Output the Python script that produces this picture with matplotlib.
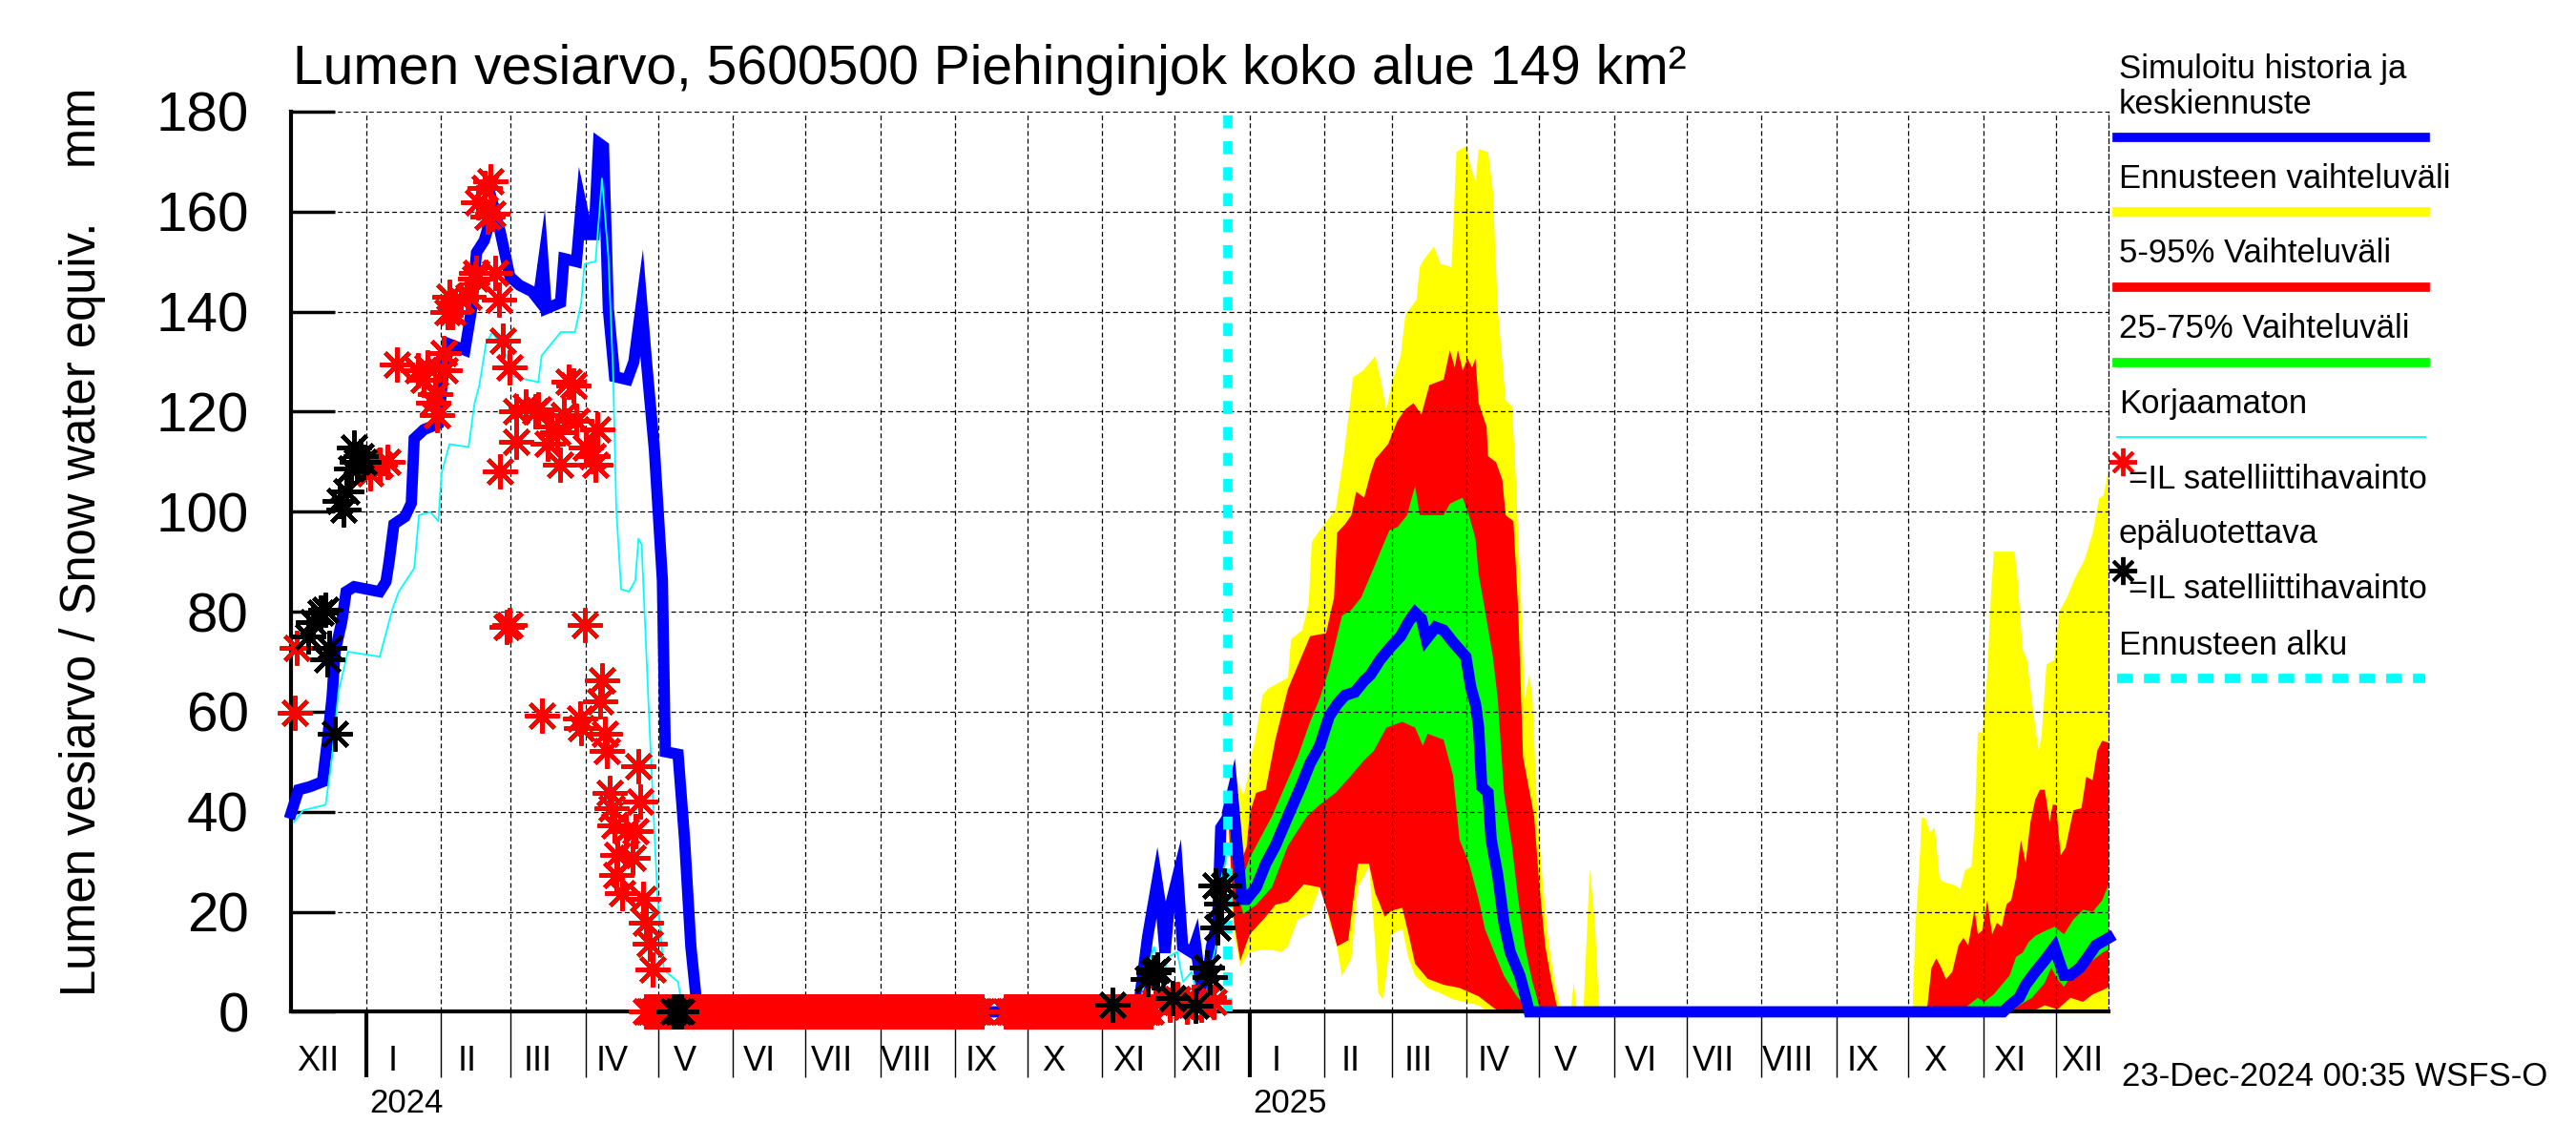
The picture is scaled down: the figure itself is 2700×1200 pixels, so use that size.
import numpy as np
import matplotlib
matplotlib.use('Agg')
import matplotlib.pyplot as plt
from matplotlib.lines import Line2D
import matplotlib.transforms as mtrans
import datetime as dt

plt.rcParams['font.family'] = ['Liberation Sans', 'DejaVu Sans']

# ---------------- data (x = days since 1 Jan 2024) ----------------
TITLE = "Lumen vesiarvo, 5600500 Piehinginjok koko alue 149 km\u00b2"
YLABEL = "Lumen vesiarvo / Snow water equiv.    mm"
STAMP = "23-Dec-2024 00:35 WSFS-O"
FORECAST_START = 357
X_START = -31
X_END = 722
ROMAN = ["I", "II", "III", "IV", "V", "VI", "VII", "VIII", "IX", "X", "XI", "XII"]

# simulated history (blue)
hist_day = [-31, -27.9, -23.3, -18, -16, -14, -12.8, -10, -8.2, -4.9, 5.7, 8.3, 9.6, 11.6,
            16.2, 18.8, 20, 24, 30, 32, 34.6, 41, 43.8, 45.8, 49, 53, 55.6, 59.6, 63.5,
            68.8, 71.4, 73.4, 74.7, 80.6, 82, 87.2, 89.2, 91.8, 94.5, 96.4, 98.4, 100.4,
            103, 108.3, 111, 114.2, 116.2, 119.5, 122.8, 124, 129.3, 132, 134.6, 137.2,
            138.5, 319.8, 323.8, 327.7, 329.7, 331, 332.4, 336.3, 338.3, 342.3, 343.6,
            346.2, 348.2, 350.2, 352.8, 354.1, 356.8, 357]
hist_swe = [39.7, 44.4, 45, 46, 54, 63, 72, 78, 84, 85, 84, 86, 90, 97.5,
            99, 101.7, 114.6, 116.4, 117.6, 127.6, 133.5, 132.3, 140.6, 151.8, 154.2, 160.7,
            156, 147, 145.3, 144, 142.4, 149.5, 140.6, 141.8, 150.6, 150, 161.3, 155.4,
            155.4, 173.7, 173, 140.6, 127, 126.4, 130, 141.8, 130, 112.3, 86.3, 52, 51.5,
            34.4, 13, 0.7, 0, 0, 15, 25.9, 19.5, 11.8, 19.5, 27.2, 13, 11.8, 13.7, 4, 4.7,
            13, 18.2, 36.8, 38.8, 40]

# uncorrected simulation (cyan)
uncorr_day = [-29.9, -26, -16.7, -14, -11.4, -7.5, -0.9, 5.7, 10.9, 13.6, 20, 22, 26.7,
              30, 31.3, 34.6, 42.5, 45, 47, 49.7, 52.4, 58.3, 61, 71.4, 72.8, 80.7, 86.6,
              89.2, 90.5, 95.1, 97.8, 100.4, 102.4, 103.7, 105.7, 109, 111.6, 112.9, 114.2,
              117.5, 120.8, 123.4, 129.3, 131.3, 320, 323.8, 326.5, 328, 330, 332.5, 336,
              338.5, 342, 345, 348, 350, 352.5, 354.5, 356.5]
uncorr_swe = [37.9, 40.3, 41.4, 50.9, 63.9, 72, 71.5, 71, 80.4, 84, 88.7, 99.3, 99.9,
              98.1, 107.6, 113.5, 112.9, 121.7, 125.3, 133.5, 135.9, 131.2, 127, 125.9,
              131.2, 135.9, 135.9, 141.8, 149.5, 150, 166.6, 151.2, 127.6, 100.5, 84.5,
              84, 86.3, 94.6, 93.4, 56.8, 22.5, 8.4, 6, 0, 0, 9, 13, 10, 7, 11, 12, 6, 8,
              2, 3, 9, 14, 27, 31]

# satellite observations, unreliable (red asterisks)
obs_bad_day = [-29.6, -28.6, 1.7, 5.7, 8.9, 12.9, 21.4, 25.4, 24, 28, 29.3, 32, 32.6, 28.7,
               34.6, 35.9, 33.9, 39.2, 42.5, 45.1, 45.8, 53.7, 55, 49, 51.7, 46.4, 50.4,
               52.4, 56.8, 59.6, 62.2, 66.2, 70.1, 71.4, 62.2, 55.7, 76.7, 75.4, 79.3, 81.8,
               80.5, 83.9, 85.9, 87.2, 95.8, 91.2, 93.8, 95.1, 59.6, 58.3, 90.5, 72.8, 88.6,
               89.2, 97.8, 97.1, 99.1, 99.7, 112.9, 113.6, 101, 101.6, 102.9, 107.6, 111.6,
               104.2, 110.3, 103.6, 106.2, 114.7, 116, 117.5, 118.7,
               327, 330, 333, 336, 340, 343, 346, 349, 351]
obs_bad_swe = [59.7, 72.7, 107.6, 109.3, 110, 129.4, 128.2, 128.8, 126.4, 121.7, 119.4, 131.8,
               128.2, 123.5, 143, 140, 140, 142.4, 143, 146.5, 147.7, 147.7, 142.4, 164.8,
               166, 161.9, 159, 159.5, 134.1, 128.8, 120, 121.1, 120, 120.5, 114, 108.1, 117,
               113.5, 115.8, 119.4, 109.3, 125.9, 125.3, 118.2, 116.4, 112.9, 111.1, 109.3,
               77.4, 76.9, 77.4, 59.2, 58.6, 56.8, 66.2, 62.1, 55.6, 52.1, 49.1, 42, 43.8,
               40.8, 37.3, 36.1, 36.1, 31.4, 30.8, 27.3, 23.7, 22.5, 17.8, 13.7, 8.4,
               2, 3, 1.5, 2.5, 1, 2, 1.5, 3, 2]
obs_bad_zero_spans = [(116, 255), (265, 325)]   # daily zero readings

# satellite observations (black asterisks)
obs_day = [-18.7, -16.7, -22, -23.9, -15.4, -16, -12.8, -9.5, -10.8, -8.2, -6.2, -4.9,
           -2.2, -3.6, -0.9, 127.5, 129.3, 130.5, 309.3, 323.8, 326.4, 327.7, 334.3, 343.6,
           348.2, 349.5, 352.1, 352.8, 354.1, 355.4]
obs_swe = [79.8, 80.4, 78, 75, 72.7, 70.4, 55.6, 100.5, 102.2, 104, 108.7, 112.9,
           111.1, 110, 110, 0, 0, 0, 1.5, 6.6, 7.9, 8.5, 2.8, 1.2,
           8.9, 6.9, 25.3, 16.9, 21.7, 25.3]

# forecast, spring 2025
fc_max_day = [357, 358.2, 360.9, 363.5, 365.5, 366.8, 368.1, 371.4, 373.4, 377.3, 381.9, 383.2,
              387.8, 390.5, 391.8, 395.1, 401.7, 405, 408.9, 412.8, 418.1, 420.1, 422.7, 425.3,
              428.6, 430.6, 435.2, 436.5, 438.5, 442.4, 445.1, 449.7, 451.7, 455.6, 457.6,
              459.6, 460.9, 464.8, 466.8, 468.8, 472.1, 474.7, 476, 478.6, 480, 481.9, 483.2,
              485.2, 487.2, 489.8, 492.4, 495.1]
fc_max = [40, 49.7, 46.2, 43.2, 47.3, 51.5, 53.8, 63.3, 64.5, 65.6, 66.8, 74.5,
          76.3, 81.6, 94, 96.3, 100.5, 111, 126.9, 128.1, 131.1, 126.9, 120.4, 126.4,
          131.1, 139.4, 142.4, 148.9, 150.6, 153, 149.5, 148.9, 171.9, 173.1, 169,
          166, 172.5, 171.9, 164.2, 140.6, 122.3, 121.1, 109.9, 80.4, 62.7, 67.4, 62.7,
          39.1, 27.3, 14.3, 6, 0]
fc_min_day = [357, 357.6, 359.6, 362.2, 366.1, 372.7, 379.3, 381.9, 385.9, 391.1, 395.1, 397,
              399, 401.7, 404.3, 408.2, 410.9, 415.5, 417.4, 419.4, 421.4, 424.7, 429.3, 431.9,
              434.6, 439.8, 445.1, 450.3, 455.6, 460.9, 464.8, 495.1]
fc_min = [40, 32, 15.5, 9, 12, 12.5, 12, 13.1, 18.4, 19.6, 24.9, 24.9,
          17.8, 14.3, 7.2, 10.7, 24.9, 29, 17.8, 3.7, 2.5, 15.5, 16.6, 10.7,
          7.2, 4.8, 3.7, 2.5, 1.9, 1.3, 0, 0]
fc_bump_day = [[499, 500.3, 501.7], [504.3, 506.9, 508.9, 510.9]]
fc_bump = [[0, 6, 0], [0, 28.5, 19, 0]]
fc_p95_day = [357, 359.6, 362.2, 364.8, 366.1, 368.8, 372.7, 376.7, 381.9, 391.1, 397.7, 401,
              402.3, 405.6, 408.2, 410.2, 413.5, 416.1, 418.1, 423.4, 427.3, 430.6, 433.9,
              437.2, 440.5, 446.4, 449, 451, 452.3, 454.3, 456.3, 458.2, 459.6, 460.9, 464.2,
              464.8, 468.1, 470.7, 472.1, 475.3, 477.3, 479.3, 483.9, 485.9, 488.5, 491.1, 493.8]
fc_p95 = [40, 35.5, 29.6, 33, 39.7, 43.8, 44.4, 54.4, 64.5, 75.1, 75.7, 82.8,
          95.8, 97.5, 99.3, 104, 102.8, 107.6, 110.5, 113.5, 118.2, 120.5, 121.7,
          119.4, 125.3, 126.4, 132.3, 128.8, 132.3, 128.2, 130.6, 128.8, 130.6, 121.7, 117,
          111.1, 109.9, 106.4, 99.3, 98.1, 80.4, 50.9, 39.1, 26.1, 13.1, 6, 0]
fc_p05_day = [357, 357.6, 359.6, 362.2, 366.1, 372.7, 376.7, 381.9, 388.5, 395.1, 399, 402.3,
              406.9, 410.9, 415.5, 418.1, 420.1, 422, 424.7, 429.3, 431.9, 434.6, 439.8, 446.4,
              452.9, 460.9, 467.4, 470, 493.8]
fc_p05 = [40, 35.5, 17.8, 10.2, 15.5, 19, 21.4, 22, 25.5, 24.9, 19, 13.1,
          14.3, 29.6, 29.6, 23.7, 21.4, 19, 20.2, 20.8, 15.5, 9.6, 6.6, 5.4,
          4.8, 3.1, 0.7, 0, 0]
fc_p75_day = [357, 357.6, 360.9, 363.5, 366.1, 370.1, 375.3, 380.6, 385.9, 391.1, 395.1, 399,
              404.3, 408.2, 412.2, 417.4, 421.4, 424, 427.3, 431.3, 433.2, 434.6, 436.5, 441.1,
              446.4, 449, 454.3, 456.9, 459.6, 460.9, 463.5, 466.8, 468.8, 471.4, 474.7, 477.3,
              480, 483.2, 485.9, 487.2]
fc_p75 = [40, 39, 30.8, 27.3, 30.8, 34.4, 39.1, 45, 50.9, 58, 62.7, 68.6,
          79.2, 80.4, 82.8, 88.7, 93.4, 96.3, 96.9, 99.3, 102.8, 105.1, 99.3, 99.3,
          99.3, 101.6, 102.8, 99.3, 94.6, 87.5, 80.4, 71, 62.7, 43.8, 33.2, 22.5,
          13.1, 6, 1.3, 0]
fc_p25_day = [357, 357.6, 360.9, 363.5, 368.8, 375.3, 381.9, 389.8, 395.1, 401.7, 408.2, 413.5,
              417.4, 422.7, 429.3, 434.6, 437.8, 439.8, 446.4, 450.3, 453, 457, 460.9, 463.5,
              467.4, 471.4, 476.7, 480, 481.9, 487.2]
fc_p25 = [40, 36.7, 23.7, 19.6, 21.4, 24.9, 33.2, 39.1, 41.4, 43.8, 47.3, 50.3,
          52.1, 56.8, 58, 56.8, 53.2, 55.6, 54.4, 47.3, 34.4, 29.6, 22.5, 16.6,
          11.9, 7.2, 3.1, 1.3, 0, 0]
fc_med_day = [358.9, 360.9, 362.8, 364.8, 368.8, 372.7, 376.7, 381.9, 387.2, 391.1, 395.1,
              399, 402.3, 405.6, 409.6, 413.5, 416.1, 420.1, 424, 428.6, 431.9, 434.6, 437.2,
              439.2, 443.1, 446.4, 450.3, 455.6, 457.6, 459.6, 460.9, 462.2, 464.8, 466.1,
              468.8, 471.4, 474, 478, 480.6, 481.9]
fc_med = [43.8, 33.2, 22.5, 22.5, 24.9, 29.6, 33.2, 39.1, 45, 49.7, 53.2,
          59.1, 61.5, 63.3, 63.9, 66.2, 67.4, 70.4, 72.7, 75.1, 78, 79.8, 78.6,
          74.5, 76.9, 76.3, 73.9, 71, 65, 61.5, 56.8, 45, 43.8, 34.4,
          27.3, 17.8, 11.9, 7.2, 2.5, 0]

# forecast, next winter (autumn 2025)
nw_bump_day = [632, 633.3, 635.3]
nw_bump = [0, 1.3, 0]
nw_max_day = [640.6, 641.9, 643.2, 644.5, 645.9, 647.9, 649.8, 651.8, 653.1, 658.4, 660.4,
              662.4, 665, 666.3, 667.7, 669.6, 671.6, 673, 674.3, 682.9, 684.2, 686.2, 688.1,
              690.1, 692.8, 694.1, 696.1, 699.4, 701.4, 704.7, 708, 712, 715.3, 717.9, 719.8,
              721.8, 722]
nw_max = [0, 17.8, 26.8, 38.8, 38.8, 35.8, 36.9, 26.8, 26, 25.3, 24.5,
          28.3, 29, 36.5, 56, 55.7, 67.3, 82.3, 92, 92, 86, 72.5, 70.3,
          62, 52.3, 55.3, 69.5, 70.3, 80, 83, 86.8, 90.5, 95.8, 102.6, 103.3,
          108.6, 108.6]
nw_p95_day = [646.5, 648.5, 650.5, 652.5, 654.5, 657.1, 659.7, 661.7, 663.7, 666.3, 667.7,
              669.6, 671.6, 673.6, 675.6, 677.6, 679.6, 681.5, 683.5, 685.5, 687.5, 689.5,
              691.5, 693.4, 695.4, 697.4, 698.7, 700, 702, 704, 707.3, 710.6, 712.6, 715.2,
              717.2, 719.2, 722]
nw_p95 = [0, 8.8, 10.7, 8.8, 6.5, 8, 13.3, 14.8, 13.3, 20.4, 15.5,
          16.3, 22.3, 15.5, 17.8, 17, 21.5, 22.3, 26.8, 34.3, 29.8, 38,
          42.5, 44.4, 44.4, 38, 41.4, 41.4, 31.3, 32.8, 40.3, 40.7, 47, 46.3,
          52.3, 54.2, 53.8]
nw_p05_day = [646.5, 690, 695.4, 700.7, 706, 711.3, 715.3, 719.2, 722]
nw_p05 = [0, 0, 1.3, 0.5, 2.8, 2, 3.5, 4.3, 5]
nw_p75_day = [661, 663.7, 667.7, 670.3, 674.3, 676.9, 680.9, 683.5, 686.2, 688.8, 691.5,
              696.1, 699.4, 703.4, 707.3, 711.3, 715.3, 719.2, 722]
nw_p75 = [0, 1.3, 2.8, 2, 3.5, 5, 7.3, 11, 11.8, 14, 15.2,
          16.3, 17, 15.5, 18.5, 20.4, 20, 22.3, 25.7]
nw_p25_day = [661, 680.9, 684.8, 690.1, 695.4, 698.1, 700.7, 703.4, 707.3, 711.3, 715.3,
              719.2, 722]
nw_p25 = [0, 0, 1.3, 2.8, 5.8, 8.8, 6.5, 5, 8, 8.8, 10.3, 11.8, 12.5]
nw_med_day = [678.2, 680.9, 684.8, 687.5, 691.5, 695.4, 699.4, 700.7, 703.4, 706, 710,
              713.3, 716.6, 720.6, 722]
nw_med = [0, 1.3, 2.8, 5.4, 8, 10.3, 12.9, 11, 7.3, 7.3, 8.8, 11, 13.3, 14.4, 14.8]

# ---------------- colours / styles ----------------
C_BLUE = "#0000ff"
C_YEL = "#ffff00"
C_RED = "#ff0000"
C_GRN = "#00ff00"
C_CYAN = "#00ffff"
STAR = (8, 2, 0)
MS, MEW = 26, 3.2
GRID_LS = (0, (4, 2.5))

BASE = dt.date(2024, 1, 1)


def dnum(y, m, d):
    return (dt.date(y, m, d) - BASE).days


fig = plt.figure(figsize=(27, 12), dpi=100)
ax = fig.add_axes([0.1130, 0.1163, 0.7057, 0.7863])


def band(up_d, up_v, lo_d, lo_v, color):
    xs = np.concatenate([np.asarray(up_d, float), np.asarray(lo_d, float)[::-1]])
    ys = np.concatenate([np.asarray(up_v, float), np.asarray(lo_v, float)[::-1]])
    ax.fill(xs, ys, color=color, lw=0, zorder=1)


# spring 2025 bands
band(fc_max_day, fc_max, fc_min_day, fc_min, C_YEL)
for bd, bv in zip(fc_bump_day, fc_bump):
    ax.fill(bd, bv, color=C_YEL, lw=0, zorder=1)
band(fc_p95_day, fc_p95, fc_p05_day, fc_p05, C_RED)
band(fc_p75_day, fc_p75, fc_p25_day, fc_p25, C_GRN)
# next winter bands
ax.fill(nw_bump_day, nw_bump, color=C_YEL, lw=0, zorder=1)
band(nw_max_day, nw_max, [nw_max_day[0], X_END], [0, 0], C_YEL)
band(nw_p95_day, nw_p95, nw_p05_day, nw_p05, C_RED)
band(nw_p75_day, nw_p75, nw_p25_day, nw_p25, C_GRN)

# blue: history + median forecast
blue_d = list(hist_day) + list(fc_med_day) + list(nw_med_day)
blue_v = list(hist_swe) + list(fc_med) + list(nw_med)
ax.plot(blue_d, blue_v, color=C_BLUE, lw=8.5, zorder=4, clip_on=False,
        solid_joinstyle='miter')
ax.plot(uncorr_day, uncorr_swe, color=C_CYAN, lw=1.3, zorder=4.2)

# forecast start
ax.axvline(FORECAST_START, color=C_CYAN, lw=7, dashes=(1.4, 1.4), zorder=4.5)

# observations
zd = np.concatenate([np.arange(a, b + 1) for a, b in obs_bad_zero_spans])
ax.plot(zd, np.zeros_like(zd, dtype=float), ls='none', marker=STAR, ms=MS, mew=MEW,
        color=C_RED, clip_on=False, zorder=5)
ax.plot(obs_bad_day, obs_bad_swe, ls='none', marker=STAR, ms=MS, mew=MEW,
        color=C_RED, clip_on=False, zorder=5)
ax.plot(obs_day, obs_swe, ls='none', marker=STAR, ms=MS, mew=MEW,
        color='black', clip_on=False, zorder=5.5)

# axes
ax.set_xlim(X_START, X_END)
ax.set_ylim(0, 180)

month_starts = []
for y in (2023, 2024, 2025):
    for m in range(1, 13):
        d = dnum(y, m, 1)
        if X_START < d <= X_END:
            month_starts.append((y, m, d))
major = [d for (y, m, d) in month_starts if m == 1]
minor = [d for (y, m, d) in month_starts if m != 1]
ax.set_xticks(major)
ax.set_xticks(minor, minor=True)
ax.tick_params(axis='x', which='major', direction='out', length=50, width=3,
               labelbottom=False)
ax.tick_params(axis='x', which='minor', direction='out', length=50, width=1,
               labelbottom=False)
ax.set_yticks(range(0, 181, 20))
ax.tick_params(axis='y', direction='in', length=33, width=2.5, pad=32, labelsize=42,
               right=False)

ax.set_axisbelow(False)
ax.grid(which='both', axis='x', color='black', lw=0.9, ls=GRID_LS)
ax.grid(which='major', axis='y', color='black', lw=0.9, ls=GRID_LS)

ax.spines['left'].set_linewidth(3)
ax.spines['bottom'].set_linewidth(3)
ax.spines['top'].set_visible(False)
ax.spines['right'].set_linestyle(GRID_LS)
ax.spines['right'].set_linewidth(0.9)

# month and year labels
tr = mtrans.blended_transform_factory(ax.transData, fig.transFigure)
for y in (2023, 2024, 2025):
    for m in range(1, 13):
        s = dnum(y, m, 1)
        e = dnum(y + (m == 12), m % 12 + 1, 1)
        if e <= X_START or s >= X_END:
            continue
        ax.text(s + 11, 0.073, ROMAN[m - 1], transform=tr, ha='center', va='center',
                fontsize=26, clip_on=False)
for yr in (2024, 2025):
    ax.text(dnum(yr, 1, 1) + 1.5, 0.036, str(yr), transform=tr, ha='left', va='center',
            fontsize=25, clip_on=False)

# title, labels
fig.text(0.1137, 0.927, TITLE, fontsize=41, ha='left', va='baseline')
fig.text(0.032, 0.527, YLABEL, rotation=90, fontsize=36.5, ha='center', va='center')
fig.text(0.8238, 0.06, STAMP, fontsize=25, ha='left', va='center')

# legend
LX0, LX1, TX = 0.8219, 0.9415, 0.8225
FS = 25
fig.text(TX, 0.9393, "Simuloitu historia ja", fontsize=FS, va='center')
fig.text(TX, 0.9086, "keskiennuste", fontsize=FS, va='center')
fig.add_artist(Line2D([LX0, LX1], [0.8803, 0.8803], transform=fig.transFigure, color=C_BLUE, lw=7))
fig.text(TX, 0.8437, "Ennusteen vaihteluv\u00e4li", fontsize=FS, va='center')
fig.add_artist(Line2D([LX0, LX1], [0.815, 0.815], transform=fig.transFigure, color=C_YEL, lw=7))
fig.text(TX, 0.7788, "5-95% Vaihteluv\u00e4li", fontsize=FS, va='center')
fig.add_artist(Line2D([LX0, LX1], [0.7488, 0.7488], transform=fig.transFigure, color=C_RED, lw=7))
fig.text(TX, 0.7127, "25-75% Vaihteluv\u00e4li", fontsize=FS, va='center')
fig.add_artist(Line2D([LX0, LX1], [0.6835, 0.6835], transform=fig.transFigure, color=C_GRN, lw=7))
fig.text(TX, 0.6469, "Korjaamaton", fontsize=FS, va='center')
fig.add_artist(Line2D([LX0, LX1], [0.6183, 0.6183], transform=fig.transFigure, color=C_CYAN, lw=1.3))
fig.add_artist(Line2D([0.8240], [0.5968], transform=fig.transFigure, ls='none', marker=STAR,
                      ms=21, mew=2.8, color=C_RED))
fig.text(0.8262, 0.5812, "=IL satelliittihavainto", fontsize=FS, va='center')
fig.text(TX, 0.534, "ep\u00e4luotettava", fontsize=FS, va='center')
fig.add_artist(Line2D([0.8240], [0.5016], transform=fig.transFigure, ls='none', marker=STAR,
                      ms=21, mew=2.8, color='black'))
fig.text(0.8262, 0.4855, "=IL satelliittihavainto", fontsize=FS, va='center')
fig.text(TX, 0.4364, "Ennusteen alku", fontsize=FS, va='center')
fig.add_artist(Line2D([LX0, LX1], [0.4078, 0.4078], transform=fig.transFigure, color=C_CYAN,
                      lw=7, dashes=(1.7, 1.2)))

fig.savefig("out.png", dpi=100)
